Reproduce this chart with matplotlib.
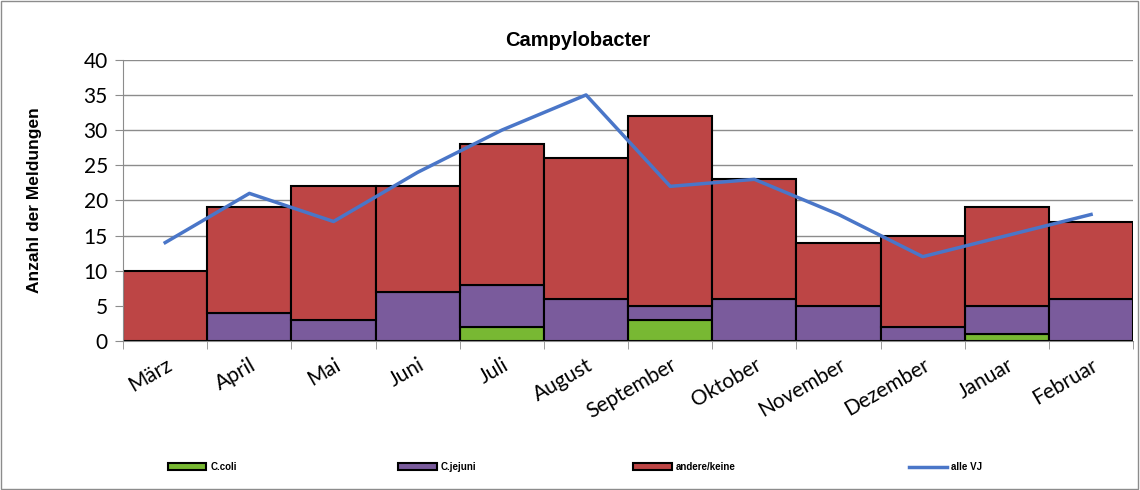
import matplotlib.pyplot as plt
import numpy as np
from matplotlib.patches import Rectangle

months = ['März', 'April', 'Mai', 'Juni', 'Juli', 'August', 'September',
          'Oktober', 'November', 'Dezember', 'Januar', 'Februar']
c_coli = [0, 0, 0, 0, 2, 0, 3, 0, 0, 0, 1, 0]
c_jejuni = [0, 4, 3, 7, 6, 6, 2, 6, 5, 2, 4, 6]
andere = [10, 15, 19, 15, 20, 20, 27, 17, 9, 13, 14, 11]
alle_vj = [14, 21, 17, 24, 30, 35, 22, 23, 18, 12, 15, 18]

fig = plt.figure(figsize=(11.4, 4.9), dpi=100)
ax = fig.add_axes([0.108, 0.304, 0.886, 0.574])

x = np.arange(len(months))
b1 = np.array(c_coli)
b2 = b1 + np.array(c_jejuni)

h1 = ax.bar(x, c_coli, width=1.0, color='#78B833', edgecolor='black', linewidth=1.5, label='C.coli', zorder=2)
h2 = ax.bar(x, c_jejuni, width=1.0, bottom=b1, color='#7A5B9C', edgecolor='black', linewidth=1.5, label='C.jejuni', zorder=2)
h3 = ax.bar(x, andere, width=1.0, bottom=b2, color='#BD4545', edgecolor='black', linewidth=1.5, label='andere/keine', zorder=2)
h4, = ax.plot(x, alle_vj, color='#4A76C8', linewidth=2.5, label='alle VJ', zorder=3)

ax.set_xlim(-0.5, 11.5)
ax.set_ylim(0, 40)
ax.set_yticks(range(0, 41, 5))
ax.yaxis.grid(True, color='#8c8c8c', linewidth=1)
ax.set_axisbelow(True)

ax.set_xticks(x)
ax.set_xticklabels(months, rotation=30, ha='right', rotation_mode='anchor',
                   fontsize=15, family='Lato')
ax.tick_params(axis='x', length=0, pad=10)
ax.set_xticks(np.arange(-0.5, 12, 1), minor=True)
ax.tick_params(axis='x', which='minor', length=6, color='#8c8c8c')
ax.tick_params(axis='y', labelsize=15, length=6, color='#8c8c8c', direction='out', pad=5)
for lbl in ax.get_yticklabels():
    lbl.set_family('Lato')

for s in ['top', 'right']:
    ax.spines[s].set_visible(False)
ax.spines['left'].set_color('#8c8c8c')
ax.spines['bottom'].set_color('#8c8c8c')

# title is centred on the whole figure, not on the plot area
ax.set_title('Campylobacter', fontsize=14.5, fontweight='bold', family='Liberation Sans', pad=10, x=0.45)
ax.set_ylabel('Anzahl der Meldungen', fontsize=12.5, fontweight='bold', family='Liberation Sans', labelpad=30)

# one small legend per entry, spaced like the original
legend_x = [0.147, 0.349, 0.555, 0.797]
for h, lx in zip([h1, h2, h3, h4], legend_x):
    leg = fig.legend(handles=[h], loc='center left', bbox_to_anchor=(lx, 0.047),
                     frameon=False, borderpad=0, borderaxespad=0,
                     prop={'family': 'Liberation Sans', 'size': 7, 'weight': 'bold'},
                     handlelength=4, handleheight=0.7, handletextpad=0.4)

fig.patches.append(Rectangle((0.001, 0.002), 0.997, 0.996, transform=fig.transFigure,
                             fill=False, edgecolor='#8c8c8c', linewidth=1))

fig.savefig('out.png', dpi=100)
